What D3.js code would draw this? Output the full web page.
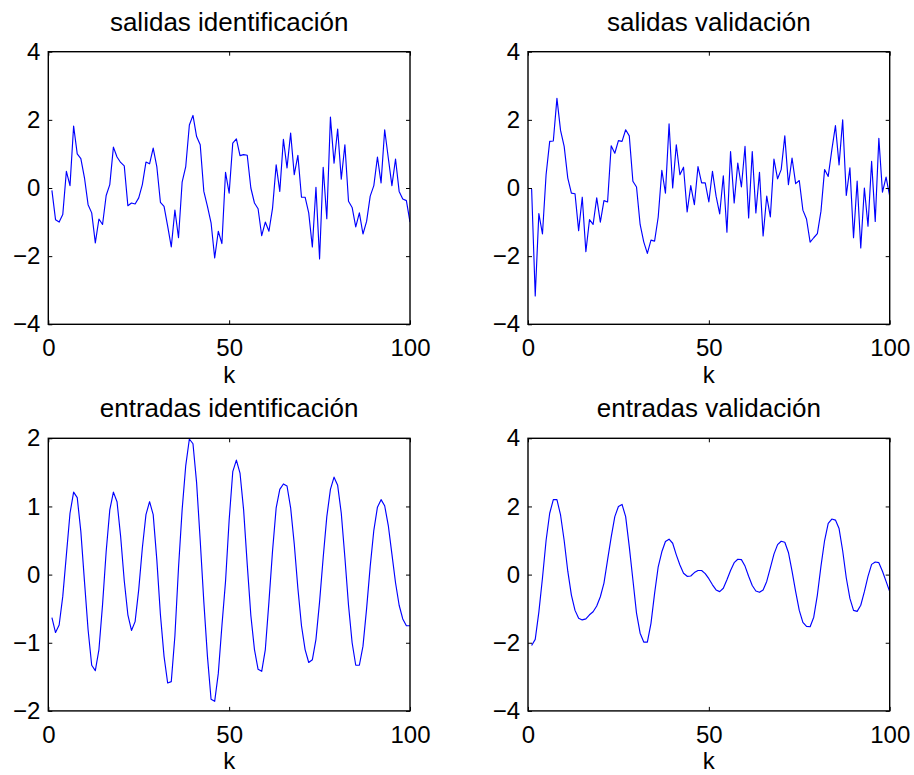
<!DOCTYPE html>
<html>
<head>
<meta charset="utf-8">
<script src="https://cdn.jsdelivr.net/npm/d3@7"></script>
<style>
  html, body { margin: 0; padding: 0; background: #ffffff; }
  svg { display: block; }
  text { font-family: "Liberation Sans", Arial, Helvetica, sans-serif; fill: #000; }
</style>
</head>
<body>
<svg id="chart" width="914" height="775"></svg>
<script>
// Sample index k = 1..100
const kValues = d3.range(1, 101);

// Output signal, identification set
const salidasIdentificacion = [
  -0.07,-0.93,-1.0,-0.78,0.49,0.07,1.82,1.0,0.86,0.3,
  -0.49,-0.73,-1.61,-0.91,-1.07,-0.22,0.1,1.2,0.91,0.75,
  0.65,-0.52,-0.44,-0.47,-0.29,0.1,0.76,0.71,1.17,0.63,
  -0.42,-0.54,-1.12,-1.73,-0.65,-1.46,0.17,0.63,1.85,2.13,
  1.51,1.27,-0.1,-0.54,-1.02,-2.05,-1.27,-1.63,0.46,-0.15,
  1.32,1.44,0.95,0.98,0.96,0.0,-0.44,-0.61,-1.4,-1.0,
  -1.27,-0.59,0.68,-0.1,1.43,0.59,1.61,0.39,0.96,-0.27,
  -0.27,-0.73,-1.73,0.02,-2.08,0.61,-0.9,2.08,0.73,1.73,
  0.26,1.27,-0.39,-0.57,-1.14,-0.73,-1.35,-0.98,-0.24,0.07,
  0.91,0.15,1.71,0.88,0.07,0.85,-0.1,-0.32,-0.37,-1.0
];

// Output signal, validation set
const salidasValidacion = [
  -0.03,-3.17,-0.75,-1.35,0.39,1.37,1.38,2.63,1.69,1.22,
  0.29,-0.15,-0.17,-1.25,-0.27,-1.87,-0.93,-1.07,-0.29,-1.0,
  -0.37,-0.41,1.24,1.02,1.39,1.37,1.71,1.53,0.2,0.03,
  -1.07,-1.58,-1.92,-1.53,-1.56,-0.85,0.52,-0.15,1.88,0.0,
  1.27,0.39,0.61,-0.7,0.07,-0.49,0.63,0.15,0.15,-0.41,
  0.49,-0.24,-0.76,0.36,-1.3,1.07,-0.44,0.73,0.03,1.22,
  -0.88,1.07,-0.73,0.46,-1.41,-0.24,-0.85,0.85,0.27,0.54,
  1.53,0.1,0.88,0.13,0.22,-0.65,-0.91,-1.59,-1.46,-1.34,
  -0.68,0.54,0.34,1.12,1.83,0.68,2.0,-0.22,0.59,-1.46,
  0.2,-1.76,0.0,-1.12,0.78,-0.98,1.46,-0.12,0.32,-0.24
];

// Input signal, identification set
const entradasIdentificacion = [
  -0.63,-0.85,-0.74,-0.32,0.29,0.9,1.21,1.13,0.63,-0.1,
  -0.81,-1.33,-1.41,-1.1,-0.44,0.34,0.95,1.21,1.07,0.56,
  -0.09,-0.59,-0.82,-0.69,-0.22,0.39,0.88,1.07,0.88,0.22,
  -0.59,-1.2,-1.59,-1.57,-0.9,0.1,0.95,1.6,1.99,1.92,
  1.35,0.5,-0.4,-1.2,-1.83,-1.86,-1.45,-0.75,-0.1,0.8,
  1.51,1.68,1.49,0.95,0.15,-0.6,-1.1,-1.39,-1.42,-1.1,
  -0.4,0.35,0.98,1.25,1.33,1.3,0.98,0.45,-0.2,-0.75,
  -1.1,-1.29,-1.25,-0.95,-0.4,0.25,0.85,1.25,1.43,1.31,
  0.9,0.25,-0.45,-1.0,-1.33,-1.33,-1.05,-0.5,0.12,0.65,
  0.99,1.1,1.01,0.72,0.3,-0.12,-0.45,-0.65,-0.75,-0.75
];

// Input signal, validation set
const entradasValidacion = [
  -2.08,-1.9,-1.1,-0.1,1.0,1.8,2.2,2.2,1.75,1.0,
  0.1,-0.6,-1.05,-1.28,-1.33,-1.3,-1.18,-1.09,-0.92,-0.65,
  -0.25,0.43,1.1,1.7,2.0,2.06,1.7,0.82,-0.15,-1.13,
  -1.72,-1.98,-1.98,-1.43,-0.55,0.23,0.67,0.97,1.04,0.92,
  0.58,0.28,0.04,-0.05,-0.04,0.06,0.12,0.12,0.03,-0.12,
  -0.3,-0.45,-0.5,-0.4,-0.15,0.12,0.35,0.45,0.44,0.25,
  -0.05,-0.32,-0.48,-0.52,-0.45,-0.2,0.2,0.6,0.88,0.98,
  0.95,0.65,0.1,-0.5,-1.05,-1.4,-1.52,-1.53,-1.25,-0.6,
  0.25,1.0,1.5,1.63,1.6,1.35,0.7,-0.1,-0.7,-1.05,
  -1.08,-0.9,-0.5,-0.05,0.3,0.37,0.35,0.1,-0.2,-0.5
];

const titles = ["salidas identificación", "salidas validación",
                "entradas identificación", "entradas validación"];
const xTicks = [0, 50, 100];
const yTicksWide = [-4, -2, 0, 2, 4];
const yTicksNarrow = [-2, -1, 0, 1, 2];
const xLabel = "k";

const panels = [
  { title: titles[0], values: salidasIdentificacion, yDomain: [-4, 4], yTicks: yTicksWide, col: 0, row: 0 },
  { title: titles[1], values: salidasValidacion, yDomain: [-4, 4], yTicks: yTicksWide, col: 1, row: 0 },
  { title: titles[2], values: entradasIdentificacion, yDomain: [-2, 2], yTicks: yTicksNarrow, col: 0, row: 1 },
  { title: titles[3], values: entradasValidacion, yDomain: [-4, 4], yTicks: yTicksWide, col: 1, row: 1 }
];

// Subplot grid geometry
const colLeft = [48.3, 528];
const rowTop = [51.7, 438.3];
const plotW = 361.7;
const plotH = 272.6;

const svg = d3.select("#chart");

panels.forEach(p => {
  const x0 = colLeft[p.col], y0 = rowTop[p.row];
  const g = svg.append("g").attr("transform", `translate(${x0},${y0})`);

  const x = d3.scaleLinear().domain([0, 100]).range([0, plotW]);
  const y = d3.scaleLinear().domain(p.yDomain).range([plotH, 0]);

  // clip so the trace stays inside the box
  const clipId = `clip-${p.col}-${p.row}`;
  g.append("clipPath").attr("id", clipId)
    .append("rect").attr("width", plotW).attr("height", plotH);

  const line = d3.line().x((d, i) => x(kValues[i])).y(d => y(d));
  g.append("path")
    .datum(p.values)
    .attr("clip-path", `url(#${clipId})`)
    .attr("fill", "none")
    .attr("stroke", "#0000ff")
    .attr("stroke-width", 1.15)
    .attr("stroke-linejoin", "round")
    .attr("d", line);

  // inward ticks on all four sides
  const fmt = d3.format("");
  const bottom = g.append("g").attr("transform", `translate(0,${plotH})`)
    .call(d3.axisBottom(x).tickValues(xTicks).tickFormat(fmt).tickSizeInner(-4).tickSizeOuter(0).tickPadding(15));
  const left = g.append("g")
    .call(d3.axisLeft(y).tickValues(p.yTicks).tickFormat(fmt).tickSizeInner(-4).tickSizeOuter(0).tickPadding(8));
  const top = g.append("g")
    .call(d3.axisTop(x).tickValues(xTicks).tickFormat("").tickSizeInner(-4).tickSizeOuter(0));
  const right = g.append("g").attr("transform", `translate(${plotW},0)`)
    .call(d3.axisRight(y).tickValues(p.yTicks).tickFormat("").tickSizeInner(-4).tickSizeOuter(0));

  [bottom, left, top, right].forEach(a => {
    a.select(".domain").remove();
    a.selectAll(".tick line").attr("stroke", "#000").attr("stroke-width", 1);
    a.selectAll("text").attr("font-size", 24).attr("fill", "#000")
      .style("font-family", '"Liberation Sans", Arial, sans-serif');
  });

  // axes box
  g.append("rect")
    .attr("width", plotW).attr("height", plotH)
    .attr("fill", "none").attr("stroke", "#000").attr("stroke-width", 1.4);

  // title
  g.append("text")
    .attr("x", plotW / 2).attr("y", -21)
    .attr("text-anchor", "middle")
    .attr("font-size", 26)
    .text(p.title);

  // x label
  g.append("text")
    .attr("x", plotW / 2).attr("y", plotH + 58.5)
    .attr("text-anchor", "middle")
    .attr("font-size", 24)
    .text(xLabel);
});
</script>
</body>
</html>
